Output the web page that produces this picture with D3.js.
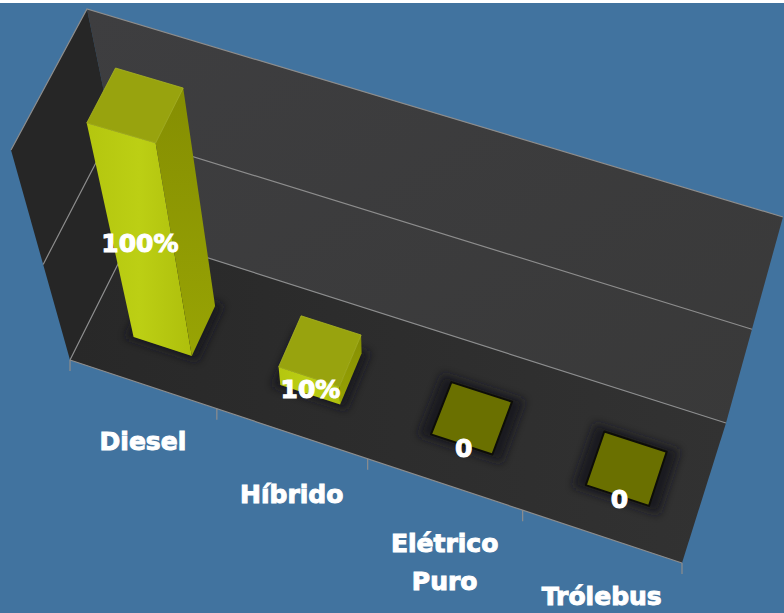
<!DOCTYPE html>
<html>
<head>
<meta charset="utf-8">
<script src="https://cdn.jsdelivr.net/npm/d3@7"></script>
<style>
  html, body { margin: 0; padding: 0; background: #fff; }
  svg { display: block; }
  text { font-family: "DejaVu Sans", sans-serif; font-weight: 700; fill: #fff; stroke: #fff; stroke-width: 1px; paint-order: stroke; }
</style>
</head>
<body>
<svg id="chart" width="784" height="613"></svg>
<script>
// Chart data
const categories = ["Diesel", "Híbrido", "Elétrico Puro", "Trólebus"];
const seriesValues = [100, 10, 0, 0];
const valueLabels = ["100%", "10%", "0", "0"];
const gridTicks = [0, 50, 100];

// Corners of the 3D plot box on screen
const box = {
  floor: { fl: [70, 360], fr: [682, 563], bl: [133, 234], br: [726, 423] },
  top:   { fl: [11, 150], fr: [738, 358], bl: [87, 9],    br: [783, 217] }
};
const labelDrop = [57, 60, 59, 60];
const valueLabelNudge = [-2, 1, 2, 2];
const lineHeight = 38;

const W = 784, H = 613, topStrip = 3;
const svg = d3.select("#chart");

// Scales across the floor, into its depth, and up the value axis
const xBand = d3.scaleBand().domain(categories).range([0, 1]).paddingInner(0.6).paddingOuter(0.3).align(0.517);
const depth = d3.scaleLinear().domain([0, 1]).range([0.3, 0.69]);
const yValue = d3.scaleLinear().domain([0, 100]).range([0, 1]);
// Foreshortening of the vertical and horizontal axes under the tilted camera
const foreshortenY = 1.198, foreshortenX = 1.056;
const warp = (t, k) => t / (t + k * (1 - t));

const mix = (a, b, t) => [a[0] + (b[0] - a[0]) * t, a[1] + (b[1] - a[1]) * t];
function project(u, v, value) {
  const s = warp(u, foreshortenX);
  const plane = p => mix(mix(p.fl, p.fr, s), mix(p.bl, p.br, s), v);
  return mix(plane(box.floor), plane(box.top), warp(yValue(value), foreshortenY));
}
const poly = pts => "M" + pts.map(p => p[0].toFixed(1) + "," + p[1].toFixed(1)).join("L") + "Z";

// Definitions
const defs = svg.append("defs");
const blur = defs.append("filter").attr("id", "soft").attr("x", "-40%").attr("y", "-40%").attr("width", "180%").attr("height", "180%");
blur.append("feGaussianBlur").attr("stdDeviation", 4);
function gradient(id, x1, y1, x2, y2, stops) {
  const g = defs.append("linearGradient").attr("id", id)
    .attr("x1", x1).attr("y1", y1).attr("x2", x2).attr("y2", y2);
  stops.forEach(s => g.append("stop").attr("offset", s[0]).attr("stop-color", s[1]));
}
gradient("frontFace", 0, 0, 1, 0, [[0, "#b4c60f"], [0.5, "#bccf14"], [1, "#aebf0c"]]);
gradient("sideFace", 0, 0, 0, 1, [[0, "#858e02"], [1, "#98a404"]]);
gradient("backWall", 0, 0, 1, 1, [[0, "#3e3e40"], [1, "#393939"]]);
gradient("floorFill", 0, 0, 1, 0, [[0, "#282828"], [1, "#323232"]]);

// Background
svg.append("rect").attr("width", W).attr("height", H).attr("fill", "#41739f");
svg.append("rect").attr("width", W).attr("height", topStrip).attr("fill", "#ffffff");

// Walls and floor
const wallLine = "#8d8d8d";
svg.append("path").attr("fill", "url(#backWall)")
  .attr("d", poly([project(0, 1, 0), project(1, 1, 0), project(1, 1, 100), project(0, 1, 100)]));
svg.append("path").attr("fill", "#262626")
  .attr("d", poly([project(0, 0, 0), project(0, 1, 0), project(0, 1, 100), project(0, 0, 100)]));
svg.append("path").attr("fill", "url(#floorFill)")
  .attr("d", poly([project(0, 0, 0), project(1, 0, 0), project(1, 1, 0), project(0, 1, 0)]));

// Value gridlines running along the side and back walls
const grid = svg.append("g").attr("fill", "none").attr("stroke", wallLine).attr("stroke-width", 1.2);
gridTicks.forEach(t => {
  grid.append("path").attr("d", d3.line()([project(0, 0, t), project(0, 1, t), project(1, 1, t)]));
});

// Front edge of the floor and category ticks
const axis = svg.append("g").attr("fill", "none").attr("stroke", wallLine).attr("stroke-width", 1.2);
axis.append("path").attr("d", d3.line()([project(0, 0, 0), project(1, 0, 0)]));
d3.range(categories.length + 1).forEach(i => {
  const p = project(i * xBand.step(), 0, 0);
  axis.append("line").attr("x1", p[0]).attr("x2", p[0]).attr("y1", p[1]).attr("y2", p[1] + 11);
});

// Bars
const bars = svg.append("g");
categories.forEach((c, i) => {
  const u0 = xBand(c), u1 = u0 + xBand.bandwidth();
  const v0 = depth(0), v1 = depth(1), val = seriesValues[i];
  const g = bars.append("g");

  const grow = val > 0 ? 0.012 : 0.018;
  g.append("path").attr("fill", "#12121f").attr("opacity", 0.85).attr("filter", "url(#soft)")
    .attr("d", poly([
      project(u0 - grow, v0 - grow * 2, 0), project(u1 + grow, v0 - grow * 2, 0),
      project(u1 + grow, v1 + grow * 2, 0), project(u0 - grow, v1 + grow * 2, 0)
    ]));

  if (val > 0) {
    g.append("path").attr("fill", "url(#frontFace)")
      .attr("d", poly([project(u0, v0, 0), project(u1, v0, 0), project(u1, v0, val), project(u0, v0, val)]));
    g.append("path").attr("fill", "url(#sideFace)")
      .attr("d", poly([project(u1, v0, 0), project(u1, v1, 0), project(u1, v1, val), project(u1, v0, val)]));
    g.append("path").attr("fill", "#98a30e").attr("stroke", "#a9b522").attr("stroke-width", 0.8)
      .attr("d", poly([project(u0, v0, val), project(u1, v0, val), project(u1, v1, val), project(u0, v1, val)]));
  } else {
    g.append("path").attr("fill", "#6a7000").attr("stroke", "#0d0d08").attr("stroke-width", 2)
      .attr("stroke-linejoin", "round")
      .attr("d", poly([project(u0, v0, 0), project(u1, v0, 0), project(u1, v1, 0), project(u0, v1, 0)]));
  }
});

// Value labels, centred on each bar's front face
categories.forEach((c, i) => {
  const um = xBand(c) + xBand.bandwidth() / 2;
  const p = mix(project(um, depth(0), 0), project(um, depth(0), seriesValues[i]), 0.5);
  svg.append("text").attr("x", p[0] + valueLabelNudge[i]).attr("y", p[1] + 12.5)
    .attr("text-anchor", "middle").attr("font-size", 25).text(valueLabels[i]);
});

// Category labels under the front edge
categories.forEach((c, i) => {
  const p = project((i + 0.5) * xBand.step(), 0, 0);
  const words = c.split(" ");
  const t = svg.append("text").attr("text-anchor", "middle").attr("font-size", 25);
  words.forEach((w, k) => {
    t.append("tspan").attr("x", p[0]).attr("y", p[1] + labelDrop[i] + 9 + k * lineHeight).text(w);
  });
});
</script>
</body>
</html>
